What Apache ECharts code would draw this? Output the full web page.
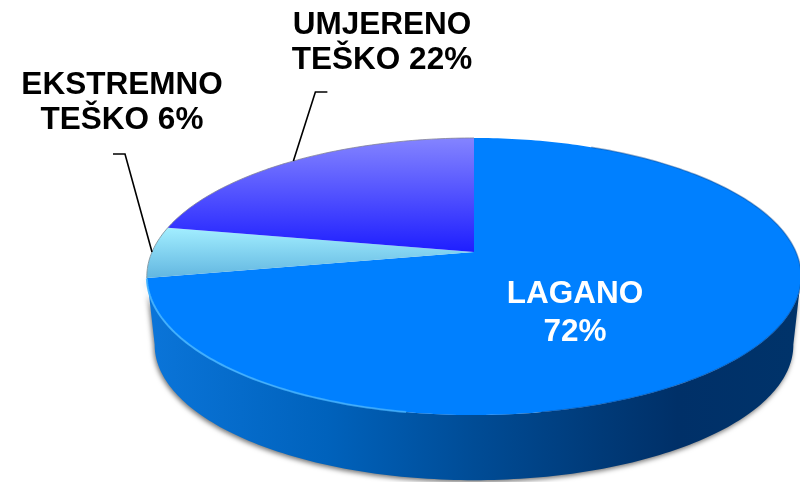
<!DOCTYPE html>
<html><head><meta charset="utf-8">
<style>html,body{margin:0;padding:0;background:#fff}#c{width:800px;height:482px}</style>
<script src="https://cdn.jsdelivr.net/npm/echarts@6/dist/echarts.min.js"></script>
</head><body><div id="c"></div>
<script>
var categories = ['LAGANO', 'EKSTREMNO\nTEŠKO', 'UMJERENO\nTEŠKO'];
var values = [72, 6, 22];

// layout of the perspective disc
var TOP = {cx: 474, cy: 252, a: 134.2, b: 322, k: -0.177};
var BOTTOM = {cx: 474, cy: 321, a: 131, b: 314.3, k: -0.177};
var LABELS = [
  {x: 575, y: 313.5, fill: '#fff', sep: '\n', lh: 38},
  {x: 122, y: 103, fill: '#000', sep: ' ', lh: 35, elbow: [-27, -98], end: [-39, -98]},
  {x: 382, y: 42.5, fill: '#000', sep: ' ', lh: 35, elbow: [22, -69], end: [34, -69]}
];
var TOPFILL = [
  '#0080ff',
  grad(0, 228, 0, 278, [[0, '#a2eeff'], [1, '#62b6e0']]),
  grad(0, 138, 0, 252, [[0, '#8484ff'], [1, '#1e1eff']])
];
var WALLFILL = grad(155, 0, 792, 0, [[0, '#0a74d8'], [.27, '#0062bc'], [.5, '#004c96'], [.7, '#003a78'], [.82, '#003068'], [1, '#00336a']]);

function grad(x, y, x2, y2, stops) {
  return {type: 'linear', x: x, y: y, x2: x2, y2: y2, global: true,
    colorStops: stops.map(function (s) { return {offset: s[0], color: s[1]}; })};
}
// project a disc angle (deg, clockwise from the back) through the perspective
function proj(p, deg) {
  var t = deg * Math.PI / 180, u = Math.sin(t), v = -Math.cos(t), d = 1 + p.k * v;
  return [p.cx + p.b * u / d, p.cy + p.a * v / d];
}
function arc(p, from, to) {
  var pts = [], n = Math.max(2, Math.ceil(Math.abs(to - from)));
  for (var i = 0; i <= n; i++) pts.push(proj(p, from + (to - from) * i / n));
  return pts;
}
var total = values.reduce(function (s, v) { return s + v; }, 0);

function renderItem(params, api) {
  var i = params.dataIndex, val = api.value(0), before = 0;
  for (var j = 0; j < i; j++) before += values[j];
  var from = before / total * 360, to = (before + val) / total * 360;
  var kids = [];
  if (i === 0) {
    // side wall around the front of the disc
    var wall = arc(TOP, 100, 260).concat(arc(BOTTOM, 260, 100));
    kids.push({type: 'polygon', shape: {points: wall}, style: {fill: WALLFILL,
      shadowBlur: 5, shadowColor: 'rgba(0,0,0,.55)', shadowOffsetX: -1, shadowOffsetY: 2}});
  }
  kids.push({type: 'polygon', shape: {points: [[TOP.cx, TOP.cy]].concat(arc(TOP, from, to))},
    style: {fill: TOPFILL[i]}});
  if (i === 0) {
    // soft highlight on the front-left rim and dark edge on the right
    kids.push({type: 'polyline', shape: {points: arc(TOP, 190, 259)},
      style: {fill: null, lineWidth: 2, stroke: grad(150, 0, 470, 0, [[0, 'rgba(70,180,255,.9)'], [.85, 'rgba(70,180,255,.7)'], [1, 'rgba(70,180,255,0)'] ])}});
    kids.push({type: 'polyline', shape: {points: arc(TOP, 25, 170)},
      style: {fill: null, lineWidth: 1.5, stroke: 'rgba(0,60,130,.4)'}});
  } else {
    kids.push({type: 'polyline', shape: {points: arc(TOP, from, to)},
      style: {fill: null, lineWidth: 1, stroke: i === 1 ? 'rgba(130,150,160,.9)' : 'rgba(130,130,150,.8)'}});
  }
  var L = LABELS[i];
  if (L.elbow) {
    var a = proj(TOP, (from + to) / 2);
    kids.push({type: 'polyline', shape: {points: [a, [a[0] + L.elbow[0], a[1] + L.elbow[1]], [a[0] + L.end[0], a[1] + L.end[1]]]},
      style: {fill: null, stroke: '#000', lineWidth: 1.6}});
  }
  kids.push({type: 'text', z2: 10, style: {
    text: categories[i] + L.sep + val + '%', x: L.x, y: L.y,
    align: 'center', verticalAlign: 'middle', fill: L.fill,
    fontFamily: '"Liberation Sans", Arial, sans-serif', fontWeight: 'bold', fontSize: 31.5, lineHeight: L.lh}});
  return {type: 'group', children: kids};
}

var chart = echarts.init(document.getElementById('c'), null, {renderer: 'canvas'});
chart.setOption({
  animation: false,
  backgroundColor: '#fff',
  series: [{
    type: 'custom', coordinateSystem: 'none', silent: true,
    renderItem: renderItem,
    data: values.map(function (v, i) { return {name: categories[i], value: [v]}; })
  }]
});
</script></body></html>
